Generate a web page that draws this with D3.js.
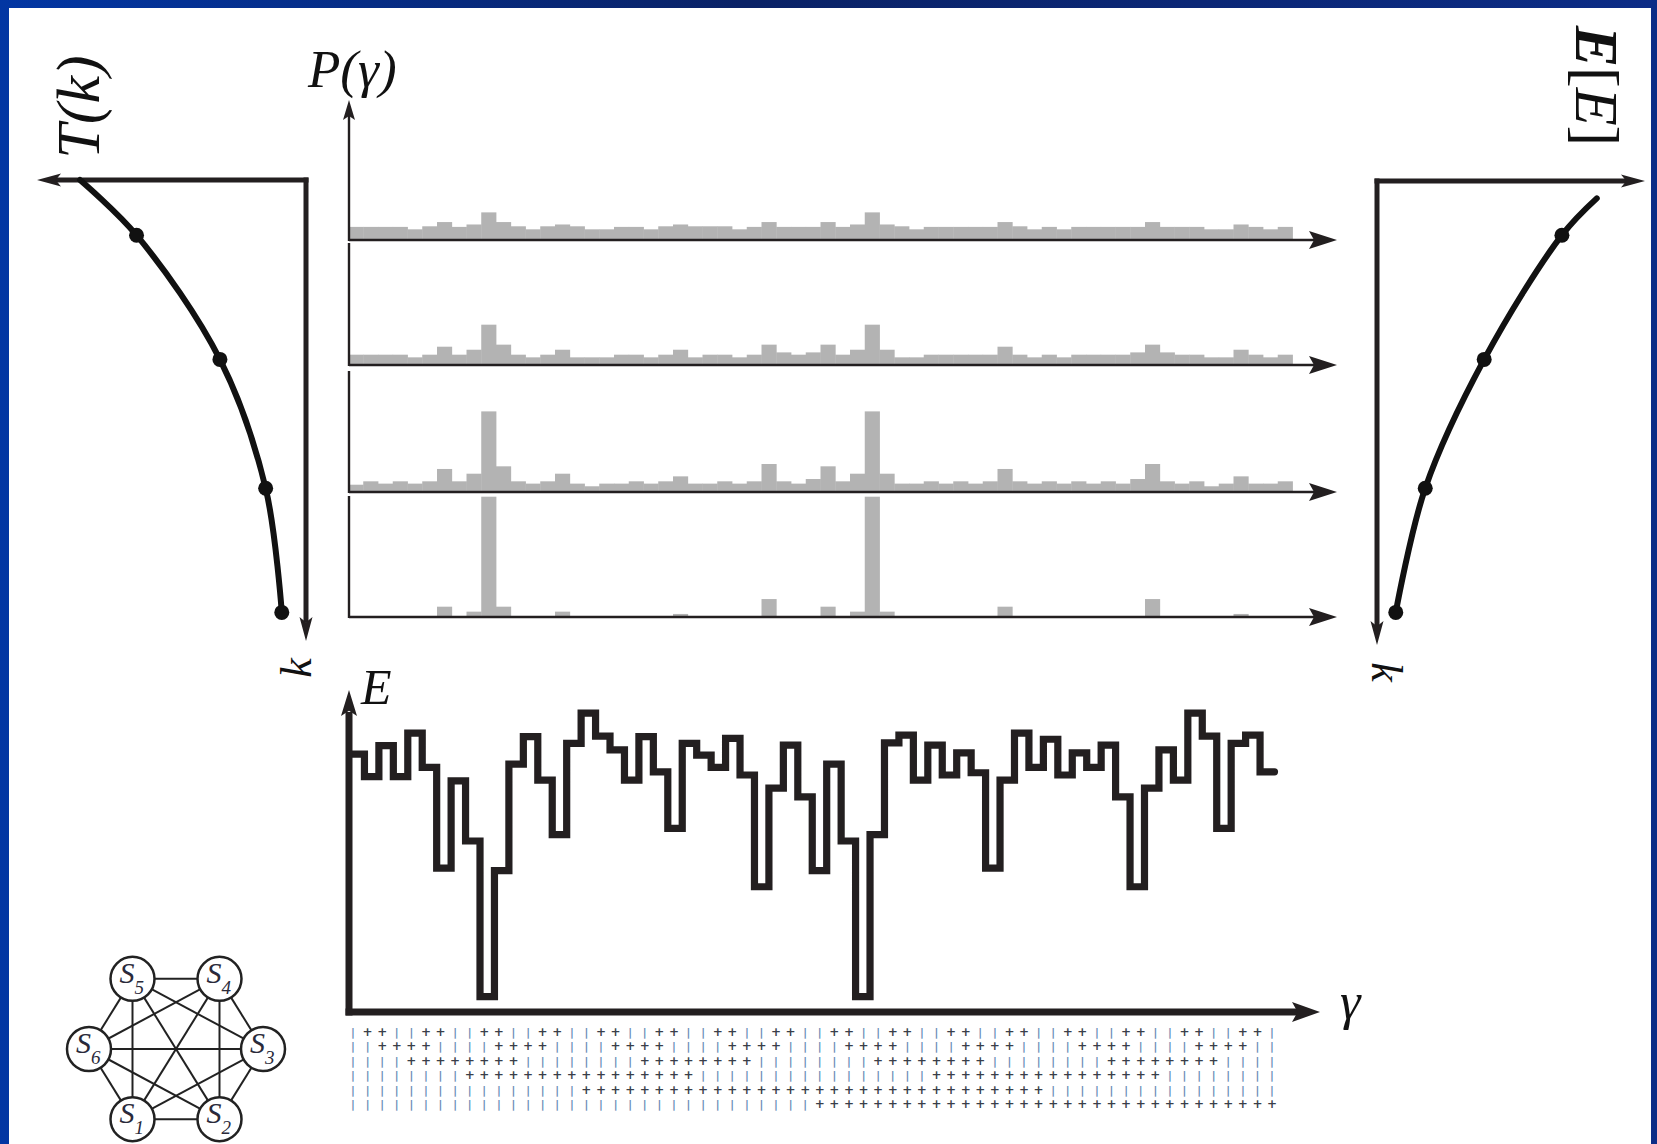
<!DOCTYPE html>
<html>
<head>
<meta charset="utf-8">
<script src="https://cdn.jsdelivr.net/npm/d3@7"></script>
<style>
  html, body { margin: 0; padding: 0; background: #0a2a7c; }
  svg { display: block; }
</style>
</head>
<body>
<div id="chart"></div>
<script>
// ---- data ----

// gamma: the 64 spin configurations, in the order of the table at the bottom
const states = d3.range(64);

// P(gamma) at four temperatures (top = hottest), arbitrary units
const histT1 = [10,10,10,10,8,10.5,14,10,12,22,14,10.5,8,10.5,12,10.5,8,8,10,10,8,10.5,12,10.5,10.5,10.5,8,10,14,10,10,10,
                14,10,12,22,12,10.5,8,10,10,10,10,10,14,10.5,8,10,8,10,10,10,10,10,14,10,10,10,8,8,12,10,8,10];
const histT2 = [7.7,7.7,7.7,7.7,5.5,7.7,14.3,7.7,11.8,32.5,16,7.7,5.5,7.7,11.8,5.5,5.5,5.5,7.7,7.7,5.5,7.7,11.8,5.5,7.7,7.7,5.5,7.7,16,9.6,7.7,9.6,
                16,7.7,11.8,32.5,11.8,5.5,5.5,7.7,7.7,7.7,7.7,7.7,14.3,7.7,5.5,7.7,5.5,7.7,7.7,7.7,7.7,9.6,16,9.6,7.7,7.7,5.5,5.5,11.8,7.7,5.5,7.7];
const histT3 = [5.2,8,6.1,8,6.1,8,18.2,8,14.3,65.8,20.4,8,6.1,8,14.3,6.1,3.9,6.1,6.1,8,6.1,8,12.1,6.1,6.1,8,6.1,8,22.3,8,6.1,9.9,
                20.4,8,14.3,65.8,14.3,6.1,6.1,8,6.1,8,6.1,8,18.2,8,6.1,8,6.1,8,6.1,8,6.1,9.9,22.3,8,6.1,8,3.9,6.1,12.1,6.1,6.1,8];
const histT4 = [0,0,0,0,0,0,7.7,0,3.6,98.6,7.7,0,0,0,3.6,0,0,0,0,0,0,0,1.7,0,0,0,0,0,14,0,0,0,
                7.7,0,3.6,98.6,3.6,0,0,0,0,0,0,0,7.7,0,0,0,0,0,0,0,0,0,14,0,0,0,0,0,1.7,0,0,0];
const histograms = [histT1, histT2, histT3, histT4];

// energy E(gamma)
const energy = [8.01,7.31,8.27,7.31,8.66,7.60,4.47,7.18,5.31,0.48,4.39,7.70,8.55,7.20,5.51,8.34,
                9.28,8.57,8.14,7.20,8.55,7.46,5.70,8.34,7.98,7.60,8.50,7.36,3.89,6.95,8.29,6.68,
                4.39,7.70,5.31,0.48,5.51,8.36,8.60,7.20,8.29,7.36,8.05,7.43,4.47,7.20,8.66,7.60,
                8.47,7.36,8.05,7.60,8.29,6.68,3.89,6.95,8.14,7.20,9.28,8.57,5.70,8.34,8.60,7.46];

// cooling schedule T(k) and expected energy E[E] against step k
const scheduleK = [0, 1.2, 3.9, 6.7, 9.4];
const scheduleT = [8.4, 6.3, 3.2, 1.5, 0.9];
const meanEK = [0.4, 1.2, 3.9, 6.7, 9.4];
const meanE = [8.2, 6.9, 4.0, 1.8, 0.7];

// spin table under the gamma axis, rows s1..s6 (groups of 8 columns)
const spinRows = [
  "-++--++- -++--++- -++--++- -++--++- -++--++- -++--++- -++--++- -++--++-",
  "--++++-- --++++-- --++++-- --++++-- --++++-- --++++-- --++++-- --++++--",
  "----++++ ++++---- ----++++ ++++---- ----++++ ++++---- ----++++ ++++----",
  "-------- ++++++++ ++++++++ -------- -------- ++++++++ ++++++++ --------",
  "-------- -------- ++++++++ ++++++++ ++++++++ ++++++++ -------- --------",
  "-------- -------- -------- -------- ++++++++ ++++++++ ++++++++ ++++++++"
];

// network of six spins
const spinNodes = ["1", "2", "3", "4", "5", "6"];
const nodeAngles = [120, 60, 0, -60, -120, 180];

// ---- drawing ----
const W = 1657, H = 1144;
const ink = "#231f20";
const serif = "'Liberation Serif', 'Times New Roman', Times, 'DejaVu Serif', serif";

const svg = d3.select("#chart").append("svg")
  .attr("width", W)
  .attr("height", H);

const grad = svg.append("defs").append("linearGradient")
  .attr("id", "frame").attr("x1", "0").attr("x2", "1").attr("y1", "0").attr("y2", "0");
grad.append("stop").attr("offset", "0%").attr("stop-color", "#0236a3");
grad.append("stop").attr("offset", "45%").attr("stop-color", "#0a2266");
grad.append("stop").attr("offset", "100%").attr("stop-color", "#0c2c86");

svg.append("rect").attr("width", W).attr("height", H).attr("fill", "url(#frame)");
svg.append("rect").attr("x", 9).attr("y", 8).attr("width", 1642).attr("height", H - 8).attr("fill", "#fff");

// notched arrow head; (dx,dy) is the pointing direction
function arrowPath(tx, ty, dx, dy, len, half, notch) {
  const bx = tx - dx * len, by = ty - dy * len;
  const nx = tx - dx * len * notch, ny = ty - dy * len * notch;
  const px = -dy, py = dx;
  return `M${tx},${ty}L${bx + px * half},${by + py * half}L${nx},${ny}L${bx - px * half},${by - py * half}Z`;
}
function arrow(g, tx, ty, dx, dy, len, half, notch) {
  g.append("path").attr("d", arrowPath(tx, ty, dx, dy, len, half, notch)).attr("fill", ink);
}

// histograms P(gamma)
const xHist = d3.scaleBand().domain(states).range([348.5, 1292.5]);
const histBase = [239, 364, 491, 616];
const histTop = [100, 243, 371, 496];
const hg = svg.append("g");

histograms.forEach((vals, p) => {
  const y = d3.scaleLinear().domain([0, 100]).range([histBase[p], histBase[p] - 121]);
  hg.selectAll(null)
    .data(states.filter(i => vals[i] > 0))
    .enter()
    .append("rect")
    .attr("x", i => xHist(i))
    .attr("y", i => y(vals[i]))
    .attr("width", xHist.bandwidth() + 0.4)
    .attr("height", i => y(0) - y(vals[i]))
    .attr("fill", "#b3b3b3");

  hg.append("line")
    .attr("x1", 349).attr("x2", 1314)
    .attr("y1", histBase[p] + 1).attr("y2", histBase[p] + 1)
    .attr("stroke", ink).attr("stroke-width", 2.5);
  arrow(hg, 1337, histBase[p] + 1, 1, 0, 28, 9, 0.82);

  hg.append("line")
    .attr("x1", 349).attr("x2", 349)
    .attr("y1", p === 0 ? histTop[p] + 16 : histTop[p]).attr("y2", histBase[p] + 2)
    .attr("stroke", ink).attr("stroke-width", 2.4);
});
arrow(hg, 349, 100, 0, -1, 20, 6, 0.8);

hg.append("text")
  .attr("x", 308).attr("y", 87)
  .attr("font-family", serif).attr("font-style", "italic").attr("font-size", 53)
  .attr("fill", "#111")
  .text("P(γ)");

// energy landscape E(gamma)
const xE = d3.scaleBand().domain(states).range([350, 1274.5]);
const yE = d3.scaleLinear().domain([0, 10]).range([1012, 690]);
const eg = svg.append("g");

const stepPts = states.map(i => [xE(i), yE(energy[i])]);
stepPts.push([xE.range()[1], yE(energy[energy.length - 1])]);

eg.append("path")
  .attr("d", d3.line().curve(d3.curveStepAfter)(stepPts))
  .attr("fill", "none")
  .attr("stroke", ink)
  .attr("stroke-width", 7.2)
  .attr("stroke-linejoin", "miter")
  .attr("stroke-linecap", "round");

eg.append("line")
  .attr("x1", 349).attr("x2", 349).attr("y1", 1015.5).attr("y2", 712)
  .attr("stroke", ink).attr("stroke-width", 7);
arrow(eg, 349, 690, 0, -1, 26, 8, 0.8);
eg.append("line")
  .attr("x1", 345.5).attr("x2", 1298).attr("y1", 1012).attr("y2", 1012)
  .attr("stroke", ink).attr("stroke-width", 7);
arrow(eg, 1320, 1012, 1, 0, 28, 10, 0.8);

eg.append("text")
  .attr("x", 361).attr("y", 704)
  .attr("font-family", serif).attr("font-style", "italic").attr("font-size", 50)
  .attr("fill", "#111").text("E");
eg.append("text")
  .attr("x", 1340).attr("y", 1019)
  .attr("font-family", serif).attr("font-style", "italic").attr("font-size", 52)
  .attr("fill", "#111").text("γ");

// spin table
const xGrid = d3.scalePoint().domain(states).range([353, 1272]);
const yGrid = d3.scalePoint().domain(d3.range(spinRows.length)).range([1032, 1104]);
const cells = [];
spinRows.forEach((row, r) => {
  row.replace(/ /g, "").split("").forEach((c, i) => cells.push({ r, i, c }));
});
svg.append("g").selectAll("text")
  .data(cells)
  .enter()
  .append("text")
  .attr("x", d => xGrid(d.i))
  .attr("y", d => yGrid(d.r))
  .attr("text-anchor", "middle")
  .attr("dominant-baseline", "central")
  .attr("font-family", "'DejaVu Sans', sans-serif")
  .attr("font-weight", "bold")
  .attr("font-size", d => d.c === "+" ? 12 : 10.5)
  .attr("fill", d => d.c === "+" ? "#3a3f4a" : "#6a8db6")
  .text(d => d.c === "+" ? "+" : "|");

// left panel: temperature schedule T(k)
const xT = d3.scaleLinear().domain([0, 10]).range([306, 37]);
const yK = d3.scaleLinear().domain([0, 10]).range([180, 640]);
const lg = svg.append("g");

lg.append("path")
  .attr("d", `M${xT(0)},${yK(0) - 2.5}L${xT(0)},${yK(10) - 18}`)
  .attr("stroke", ink).attr("stroke-width", 5).attr("fill", "none");
lg.append("path")
  .attr("d", `M${xT(0) + 2.5},${yK(0)}L${xT(10) + 18},${yK(0)}`)
  .attr("stroke", ink).attr("stroke-width", 5).attr("fill", "none");
arrow(lg, xT(0), yK(10) + 1, 0, 1, 24, 6.5, 0.78);
arrow(lg, xT(10), yK(0), -1, 0, 24, 6.5, 0.78);

lg.append("path")
  .attr("d", d3.line().curve(d3.curveCatmullRom.alpha(0.5))
    .x((d, i) => xT(scheduleT[i])).y(d => yK(d))(scheduleK))
  .attr("fill", "none").attr("stroke", "#111").attr("stroke-width", 6).attr("stroke-linecap", "round");
lg.selectAll("circle")
  .data(scheduleK.slice(1).map((k, i) => ({ k, v: scheduleT[i + 1] })))
  .enter().append("circle")
  .attr("cx", d => xT(d.v)).attr("cy", d => yK(d.k)).attr("r", 7.5).attr("fill", "#111");

lg.append("text")
  .attr("transform", "translate(78,107) rotate(-90)")
  .attr("text-anchor", "middle").attr("dominant-baseline", "central")
  .attr("font-family", serif).attr("font-style", "italic").attr("font-size", 62)
  .attr("fill", "#111").text("T(k)");
lg.append("text")
  .attr("transform", "translate(296,668) rotate(-90)")
  .attr("text-anchor", "middle").attr("dominant-baseline", "central")
  .attr("font-family", serif).attr("font-style", "italic").attr("font-size", 44)
  .attr("fill", "#111").text("k");

// right panel: expected energy E[E] against k
const xM = d3.scaleLinear().domain([0, 10]).range([1377, 1645]);
const yK2 = d3.scaleLinear().domain([0, 10]).range([181, 645]);
const rg = svg.append("g");

rg.append("path")
  .attr("d", `M${xM(0)},${yK2(0) - 2.5}L${xM(0)},${yK2(10) - 18}`)
  .attr("stroke", ink).attr("stroke-width", 5).attr("fill", "none");
rg.append("path")
  .attr("d", `M${xM(0) - 2.5},${yK2(0)}L${xM(10) - 18},${yK2(0)}`)
  .attr("stroke", ink).attr("stroke-width", 5).attr("fill", "none");
arrow(rg, xM(0), yK2(10), 0, 1, 24, 6.5, 0.78);
arrow(rg, xM(10), yK2(0), 1, 0, 24, 6.5, 0.78);

rg.append("path")
  .attr("d", d3.line().curve(d3.curveCatmullRom.alpha(0.5))
    .x((d, i) => xM(meanE[i])).y(d => yK(d))(meanEK))
  .attr("fill", "none").attr("stroke", "#111").attr("stroke-width", 6).attr("stroke-linecap", "round");
rg.selectAll("circle")
  .data(meanEK.slice(1).map((k, i) => ({ k, v: meanE[i + 1] })))
  .enter().append("circle")
  .attr("cx", d => xM(d.v)).attr("cy", d => yK(d.k)).attr("r", 7.5).attr("fill", "#111");

const eLab = rg.append("text")
  .attr("transform", "translate(1597,86) rotate(90)")
  .attr("text-anchor", "middle").attr("dominant-baseline", "central")
  .attr("font-family", serif).attr("font-size", 62).attr("fill", "#111");
eLab.append("tspan").attr("font-weight", "bold").attr("font-style", "italic").text("E");
eLab.append("tspan").text("[");
eLab.append("tspan").attr("font-style", "italic").text("E");
eLab.append("tspan").text("]");
rg.append("text")
  .attr("transform", "translate(1386,672) rotate(90)")
  .attr("text-anchor", "middle").attr("dominant-baseline", "central")
  .attr("font-family", serif).attr("font-style", "italic").attr("font-size", 44)
  .attr("fill", "#111").text("k");

// spin network, fully connected
const ng = svg.append("g");
const cx = 176, cy = 1049, rx = 87, ry = 81;
const nodes = spinNodes.map((s, i) => ({
  s,
  x: cx + rx * Math.cos(nodeAngles[i] * Math.PI / 180),
  y: cy + ry * Math.sin(nodeAngles[i] * Math.PI / 180)
}));
const links = [];
nodes.forEach((a, i) => nodes.slice(i + 1).forEach(b => links.push([a, b])));

ng.selectAll("line")
  .data(links)
  .enter().append("line")
  .attr("x1", d => d[0].x).attr("y1", d => d[0].y)
  .attr("x2", d => d[1].x).attr("y2", d => d[1].y)
  .attr("stroke", "#222").attr("stroke-width", 2);

const node = ng.selectAll("g.node")
  .data(nodes)
  .enter().append("g")
  .attr("class", "node")
  .attr("transform", d => `translate(${d.x},${d.y})`);
node.append("circle").attr("r", 22).attr("fill", "#fff").attr("stroke", "#222").attr("stroke-width", 2.5);
const sLab = node.append("text")
  .attr("x", -13).attr("y", 4)
  .attr("font-family", serif).attr("font-style", "italic").attr("font-size", 30)
  .attr("fill", "#2a2a3a");
sLab.append("tspan").text("S");
sLab.append("tspan")
  .attr("dx", 0).attr("dy", 11)
  .attr("font-size", 19)
  .text(d => d.s);
</script>
</body>
</html>
